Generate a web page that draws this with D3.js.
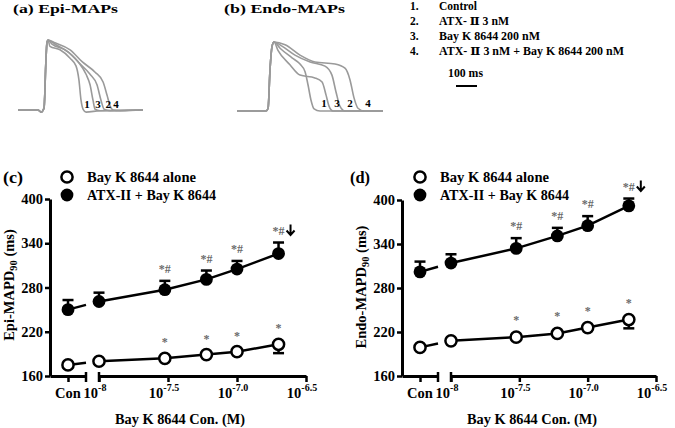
<!DOCTYPE html>
<html><head><meta charset="utf-8">
<script src="https://cdn.jsdelivr.net/npm/d3@7"></script>
<style>
body{margin:0;background:#fff}
svg{display:block}
text{font-family:"Liberation Serif","Tinos","Times New Roman",Times,"DejaVu Serif","Noto Serif",serif;font-weight:bold}
</style>
</head><body>
<svg id="chart" width="675" height="428"></svg>
<script>
// ---------------- DATA ----------------
const doses = ["Con", 1e-8, 3e-8, 6e-8, 1e-7, 2e-7];
const tickLogs = [-8, -7.5, -7, -6.5];
const tickExps = ["-8", "-7.5", "-7.0", "-6.5"];
const yTicks = [160, 220, 280, 340, 400];
const seriesNames = ["Bay K 8644 alone", "ATX-II + Bay K 8644"];

const epiAlone = [175, 180, 184, 189, 193, 203];
const epiAloneErr = [3, 3, 3, 3, 3, 12];
const epiAtx = [250, 261, 277, 291, 305, 326];
const epiAtxErr = [13, 12, 12, 12, 11, 15];

const endoAlone = [199, 208, 213, 218, 226, 237];
const endoAloneErr = [3, 3, 3, 3, 3, 12];
const endoAtx = [302, 314, 334, 351, 365, 392];
const endoAtxErr = [14, 12, 14, 11, 13, 10];

const aloneMarks = ["", "", "*", "*", "*", "*"];
const atxMarks = ["", "", "*#", "*#", "*#", "*#↓"];

const traceLegendNums = ["1.", "2.", "3.", "4."];
const traceLegend = ["Control", "ATX- Ⅱ  3 nM", "Bay K 8644 200 nM", "ATX- Ⅱ  3 nM + Bay K 8644 200 nM"];
const traceLabels = ["1", "2", "3", "4"];

// MAP traces: [time (ms), amplitude (% of peak)]
const epiCommon = [[0,0],[95,0],[110,-3],[124,3],[133,71],[138,97],[143,100]];
const epiT1 = [[152,91],[200,86],[248,74],[276,63],[290,43],[300,14],[310,1],[324,-3],[390,-1],[595,0]];
const epiT2 = [[176,94],[238,83],[295,66],[343,51],[376,36],[395,14],[410,1],[438,-1],[595,0]];
const epiT3 = [[162,94],[224,86],[286,69],[324,51],[343,36],[357,14],[367,1],[390,-1],[595,0]];
const epiT4 = [[176,96],[248,86],[305,69],[367,54],[405,40],[424,21],[438,6],[452,0],[486,-1],[595,0]];
const epiLabelTimes = [329, 429, 381, 467];

const endoCommon = [[0,0],[138,0],[148,4],[157,59],[167,94],[176,100]];
const endoT1 = [[205,91],[262,77],[300,68],[324,57],[338,38],[352,16],[367,3],[395,0],[695,0]];
const endoT2 = [[214,94],[276,81],[348,71],[419,65],[452,52],[471,28],[490,7],[514,0],[695,0]];
const endoT3 = [[195,88],[252,67],[300,52],[371,48],[405,42],[424,23],[438,7],[457,0],[695,0]];
const endoT4 = [[229,96],[300,81],[371,71],[467,68],[514,62],[538,45],[557,19],[576,4],[605,0],[695,0]];
const endoLabelTimes = [414, 538, 476, 624];

// ---------------- DRAW ----------------
const svg = d3.select("#chart");
const serif = '"Liberation Serif","Tinos","Times New Roman",Times,"DejaVu Serif",serif';

function fitText(sel, w) {
  return sel.attr("textLength", w).attr("lengthAdjust", "spacingAndGlyphs");
}

// ---- top traces ----
function drawTraces(cfg) {
  const x = d3.scaleLinear().domain([0, cfg.tMax]).range([cfg.x0, cfg.x1]);
  const y = d3.scaleLinear().domain([0, 100]).range([cfg.yBase, cfg.yPeak]);
  const ln = d3.line().x(d => x(d[0])).y(d => y(d[1])).curve(d3.curveMonotoneX);
  cfg.traces.forEach(t => {
    svg.append("path").attr("d", ln(cfg.common.concat(t)))
      .attr("fill", "none").attr("stroke", "#9a9a9a").attr("stroke-width", 1.6);
  });
  cfg.labelTimes.forEach((t, i) => {
    svg.append("text").attr("x", x(t)).attr("y", y(cfg.labelAmp))
      .attr("text-anchor", "middle").attr("font-size", 11).text(traceLabels[i]);
  });
  fitText(svg.append("text").attr("x", cfg.titleX).attr("y", 13).attr("font-size", 13).text(cfg.title), cfg.titleW);
  return x;
}
const xa = drawTraces({x0: 18, x1: 143, tMax: 595, yBase: 110, yPeak: 40, common: epiCommon,
  traces: [epiT1, epiT2, epiT3, epiT4], labelTimes: epiLabelTimes, labelAmp: 3,
  title: "(a) Epi-MAPs", titleX: 13, titleW: 105});
drawTraces({x0: 237, x1: 383, tMax: 695, yBase: 111, yPeak: 42, common: endoCommon,
  traces: [endoT1, endoT2, endoT3, endoT4], labelTimes: endoLabelTimes, labelAmp: 6,
  title: "(b) Endo-MAPs", titleX: 224, titleW: 121});

// trace legend
const legW = [38, 70, 101, 185];
traceLegend.forEach((s, i) => {
  svg.append("text").attr("x", 410).attr("y", 10 + i * 15).attr("font-size", 11.5).text(traceLegendNums[i]);
  fitText(svg.append("text").attr("x", 439).attr("y", 10 + i * 15).attr("font-size", 11.5).text(s), legW[i]);
});
fitText(svg.append("text").attr("x", 448).attr("y", 77).attr("font-size", 12).text("100 ms"), 35);
svg.append("line").attr("x1", 456).attr("x2", 456 + xa(100) - xa(0)).attr("y1", 86).attr("y2", 86)
  .attr("stroke", "#000").attr("stroke-width", 2);

// ---- dose-response panels ----
function drawPanel(cfg) {
  const g = svg.append("g");
  const y = d3.scaleLinear().domain([160, 400]).range([cfg.yBot, cfg.yTop]);
  const xCon = d3.scalePoint().domain(["Con"]).range([cfg.axisX, cfg.conEnd]).padding(0.5);
  const xLog = d3.scaleLinear().domain([-8, -6.5]).range([cfg.logStart, cfg.logEnd]);
  const xOf = i => i === 0 ? xCon("Con") : xLog(Math.log10(doses[i]));

  const styleAxis = a => {
    a.attr("font-family", serif).attr("font-size", 14).attr("font-weight", "bold");
    a.selectAll("path.domain").attr("stroke-width", 3);
    a.selectAll(".tick line").attr("stroke-width", 2.5);
    a.selectAll(".tick text").attr("fill", "#000");
  };
  // y axis
  const ya = g.append("g").attr("transform", `translate(${cfg.axisX},0)`)
    .call(d3.axisLeft(y).tickValues(yTicks).tickSize(5).tickSizeOuter(0).tickPadding(2));
  styleAxis(ya);
  ya.selectAll(".tick text").attr("font-size", 14.5);
  // x axis: control segment
  const xc = g.append("g").attr("transform", `translate(0,${cfg.yBot})`)
    .call(d3.axisBottom(xCon).tickSize(6).tickSizeOuter(0).tickFormat(""));
  styleAxis(xc);
  // x axis: log segment
  const xl = g.append("g").attr("transform", `translate(0,${cfg.yBot})`)
    .call(d3.axisBottom(xLog).tickValues(tickLogs).tickSize(6).tickSizeOuter(0).tickFormat(""));
  styleAxis(xl);
  // break marks
  [cfg.conEnd, cfg.logStart].forEach(bx => {
    g.append("line").attr("x1", bx).attr("x2", bx).attr("y1", cfg.yBot - 4).attr("y2", cfg.yBot + 6)
      .attr("stroke", "#000").attr("stroke-width", 2.5);
  });
  // tick labels
  g.append("text").attr("x", xCon("Con")).attr("y", cfg.yBot + 22).attr("text-anchor", "middle")
    .attr("font-size", 14.5).text("Con");
  tickLogs.forEach((v, i) => {
    const t = g.append("text").attr("x", xLog(v) - 4).attr("y", cfg.yBot + 22).attr("text-anchor", "middle")
      .attr("font-size", 14.5);
    t.append("tspan").text("10");
    t.append("tspan").attr("dy", -7).attr("font-size", 10).text(tickExps[i]);
  });
  // axis titles
  fitText(g.append("text").attr("x", cfg.xTitleX).attr("y", 424).attr("text-anchor", "middle")
    .attr("font-size", 14.5).text("Bay K 8644 Con. (M)"), 130);
  const yt = g.append("text").attr("transform", `translate(${cfg.yTitleX},${cfg.yTitleC}) rotate(-90)`)
    .attr("text-anchor", "middle").attr("font-size", 14.5);
  yt.append("tspan").text(cfg.yTitle);
  yt.append("tspan").attr("font-size", 10.5).attr("dy", 3).text("90");
  yt.append("tspan").attr("dy", -3).text(" (ms)");

  // series
  const series = [
    {vals: cfg.alone, errs: cfg.aloneErr, dir: -1, open: true, marks: aloneMarks, off: cfg.aloneOff},
    {vals: cfg.atx, errs: cfg.atxErr, dir: 1, open: false, marks: atxMarks, off: 13}
  ];
  series.forEach(s => {
    const pts = s.vals.map((v, i) => [xOf(i), y(v)]);
    // control-to-break segment
    const [x0, y0] = pts[0], [x1, y1] = pts[1];
    const bx = cfg.conEnd;
    const by = y0 + (y1 - y0) * (bx - x0) / (x1 - x0);
    g.append("path").attr("d", d3.line()([[x0, y0], [bx, by]]))
      .attr("stroke", "#000").attr("stroke-width", 2.5).attr("fill", "none");
    g.append("path").attr("d", d3.line()(pts.slice(1)))
      .attr("stroke", "#000").attr("stroke-width", 2.5).attr("fill", "none");
    // error bars
    s.vals.forEach((v, i) => {
      const xe = xOf(i), ye = y(v + s.dir * s.errs[i]);
      g.append("line").attr("x1", xe).attr("x2", xe).attr("y1", y(v)).attr("y2", ye)
        .attr("stroke", "#000").attr("stroke-width", 2.5);
      g.append("line").attr("x1", xe - 5.5).attr("x2", xe + 5.5).attr("y1", ye).attr("y2", ye)
        .attr("stroke", "#000").attr("stroke-width", 2.5);
    });
    // markers
    pts.forEach(p => {
      g.append("circle").attr("cx", p[0]).attr("cy", p[1])
        .attr("r", s.open ? 5.6 : 6.4)
        .attr("fill", s.open ? "#fff" : "#000")
        .attr("stroke", "#000").attr("stroke-width", s.open ? 2.5 : 0);
    });
    // significance marks
    s.marks.forEach((m, i) => {
      if (!m) return;
      const xm = xOf(i);
      const yc = s.dir > 0 ? y(s.vals[i] + s.errs[i]) - s.off : y(s.vals[i]) - s.off;
      const arrow = m.endsWith("↓");
      const main = arrow ? m.slice(0, -1) : m;
      g.append("text").attr("x", xm).attr("y", yc + 5).attr("text-anchor", "middle")
        .attr("font-size", 12).attr("font-weight", "normal").attr("fill", "#6a6a6a").text(main);
      if (arrow) {
        const ax = xm + 12;
        g.append("path").attr("d", `M${ax},${yc - 5}V${yc + 5}M${ax - 4},${yc + 1}L${ax},${yc + 5.5}L${ax + 4},${yc + 1}`)
          .attr("fill", "none").attr("stroke", "#000").attr("stroke-width", 2);
      }
    });
  });

  // panel letter and legend
  fitText(g.append("text").attr("x", cfg.letterX).attr("y", 183).attr("font-size", 16).text(cfg.letter), 20);
  [0, 1].forEach(i => {
    const ly = 177 + i * 18;
    g.append("circle").attr("cx", cfg.legX).attr("cy", ly).attr("r", i === 0 ? 5.6 : 6.4)
      .attr("fill", i === 0 ? "#fff" : "#000").attr("stroke", "#000").attr("stroke-width", i === 0 ? 2.5 : 0);
    fitText(g.append("text").attr("x", cfg.legX + 20).attr("y", ly + 5).attr("font-size", 14.5).text(seriesNames[i]),
      i === 0 ? 109 : 129);
  });
}

drawPanel({axisX: 50, conEnd: 86, logStart: 99, logEnd: 306, yTop: 199, yBot: 376,
  alone: epiAlone, aloneErr: epiAloneErr, atx: epiAtx, atxErr: epiAtxErr, aloneOff: 17,
  xTitleX: 180, yTitleX: 14, yTitleC: 285, yTitle: "Epi-MAPD", letter: "(c)", letterX: 3, legX: 67});
drawPanel({axisX: 402, conEnd: 438, logStart: 451, logEnd: 656, yTop: 200, yBot: 376,
  alone: endoAlone, aloneErr: endoAloneErr, atx: endoAtx, atxErr: endoAtxErr, aloneOff: 18,
  xTitleX: 532, yTitleX: 366, yTitleC: 287, yTitle: "Endo-MAPD", letter: "(d)", letterX: 350, legX: 420});
</script>
</body></html>
